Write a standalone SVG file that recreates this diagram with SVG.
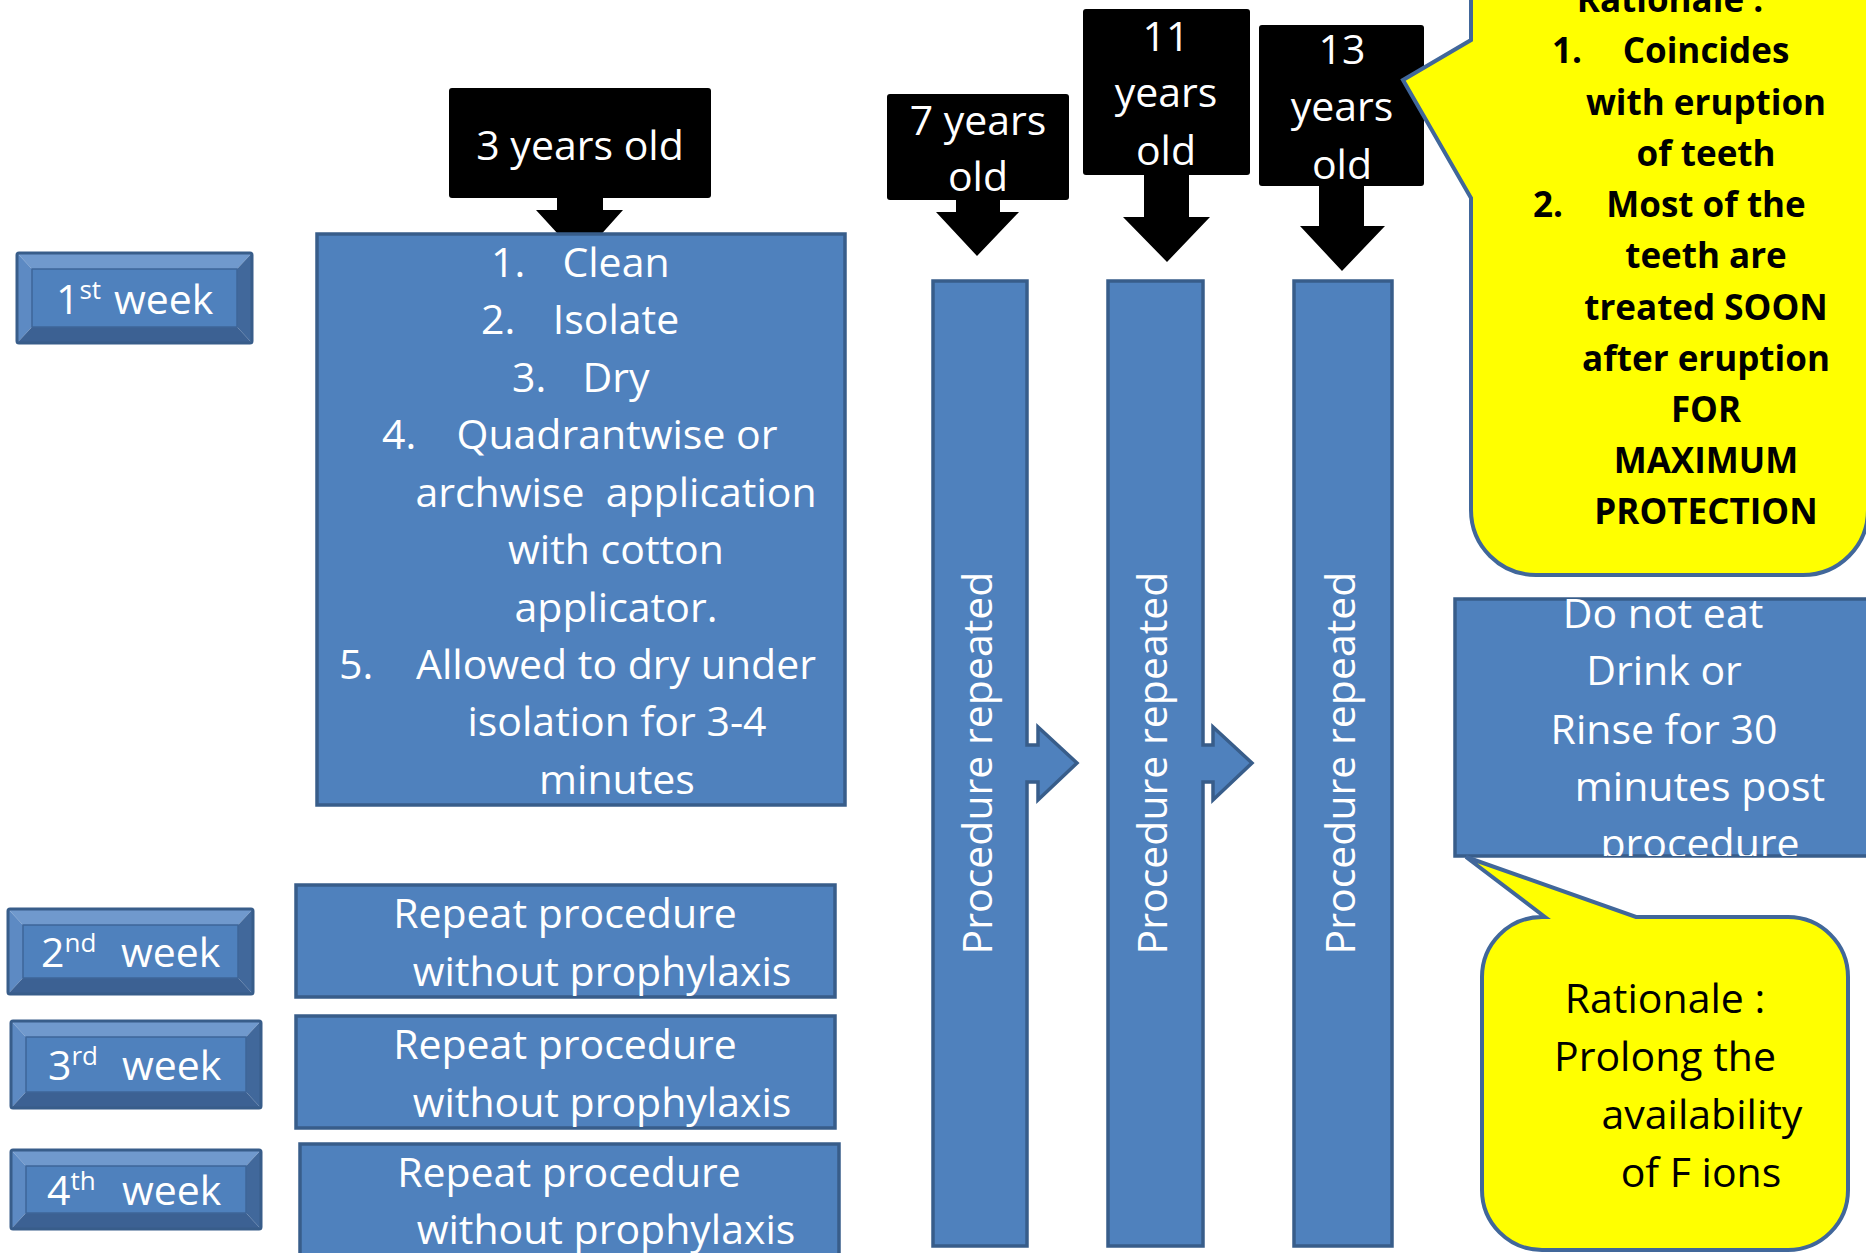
<svg xmlns="http://www.w3.org/2000/svg" width="1866" height="1253" viewBox="0 0 1866 1253">
<defs>
<style>
.t{font-family:"Open Sans","DejaVu Sans",sans-serif;font-size:41px;fill:#fff}
.c{text-anchor:middle}
.k{fill:#000}
.b{font-weight:bold;font-size:35px}
.blue{fill:#4f81bd;stroke:#385d8a;stroke-width:3.5}
.blk{fill:#000}
.yel{fill:#ffff00;stroke:#41679a;stroke-width:4;stroke-linejoin:miter}
.bt{fill:#7099cd}
.bl{fill:#5d8ac3}
.bb{fill:#3c6193}
.br{fill:#41689b}
.face{fill:#4f81bd;stroke:#3e6699;stroke-width:1.5}
.out{fill:none;stroke:#385d8a;stroke-width:3}
.sup{font-size:26px}
</style>
<clipPath id="clipDN"><rect x="1455" y="599" width="420" height="257"/></clipPath>
</defs>
<rect width="1866" height="1253" fill="#fff"/>

<!-- connectors: down arrows from age boxes -->
<g id="connectors">
<polygon class="blk" points="557,196 603,196 603,210 623,210 580,258 536,210 557,210"/>
<polygon class="blk" points="956,198 1000,198 1000,212 1019,212 977,256 936,212 956,212"/>
<polygon class="blk" points="1144,172 1189,172 1189,217 1210,217 1167,262 1123,217 1144,217"/>
<polygon class="blk" points="1319,184 1364,184 1364,226 1385,226 1342,271 1300,226 1319,226"/>
</g>

<!-- week boxes -->
<g id="week1">
<polygon class="bt" points="17,253 252,253 237,269 32,269"/>
<polygon class="bl" points="17,253 32,269 32,327 17,343"/>
<polygon class="bb" points="17,343 32,327 237,327 252,343"/>
<polygon class="br" points="252,253 252,343 237,327 237,269"/>
<rect class="face" x="32" y="269" width="205" height="58"/>
<rect class="out" x="17" y="253" width="235" height="90" rx="2"/>
<text class="t" x="56" y="314">1<tspan class="sup" dy="-15">st</tspan><tspan x="114" dy="15">week</tspan></text>
</g>
<g id="week2">
<polygon class="bt" points="8,909 253,909 238,925 23,925"/>
<polygon class="bl" points="8,909 23,925 23,978 8,994"/>
<polygon class="bb" points="8,994 23,978 238,978 253,994"/>
<polygon class="br" points="253,909 253,994 238,978 238,925"/>
<rect class="face" x="23" y="925" width="215" height="53"/>
<rect class="out" x="8" y="909" width="245" height="85" rx="2"/>
<text class="t" x="41" y="967">2<tspan class="sup" dy="-15">nd</tspan><tspan x="121" dy="15">week</tspan></text>
</g>
<g id="week3">
<polygon class="bt" points="11,1021 261,1021 246,1037 26,1037"/>
<polygon class="bl" points="11,1021 26,1037 26,1092 11,1108"/>
<polygon class="bb" points="11,1108 26,1092 246,1092 261,1108"/>
<polygon class="br" points="261,1021 261,1108 246,1092 246,1037"/>
<rect class="face" x="26" y="1037" width="220" height="55"/>
<rect class="out" x="11" y="1021" width="250" height="87" rx="2"/>
<text class="t" x="48" y="1080">3<tspan class="sup" dy="-15">rd</tspan><tspan x="122" dy="15">week</tspan></text>
</g>
<g id="week4">
<polygon class="bt" points="11,1150 261,1150 246,1166 26,1166"/>
<polygon class="bl" points="11,1150 26,1166 26,1213 11,1229"/>
<polygon class="bb" points="11,1229 26,1213 246,1213 261,1229"/>
<polygon class="br" points="261,1150 261,1229 246,1213 246,1166"/>
<rect class="face" x="26" y="1166" width="220" height="47"/>
<rect class="out" x="11" y="1150" width="250" height="79" rx="2"/>
<text class="t" x="47" y="1205">4<tspan class="sup" dy="-15">th</tspan><tspan x="122" dy="15">week</tspan></text>
</g>

<!-- age boxes -->
<g id="age3">
<rect class="blk" x="449" y="88" width="262" height="110" rx="3"/>
<text class="t c" x="580" y="160">3 years old</text>
</g>
<g id="age7">
<rect class="blk" x="887" y="94" width="182" height="106" rx="3"/>
<text class="t c" x="978" y="135">7 years</text>
<text class="t c" x="978" y="191">old</text>
</g>
<g id="age11">
<rect class="blk" x="1083" y="9" width="167" height="166" rx="3"/>
<text class="t c" x="1166" y="51">11</text>
<text class="t c" x="1166" y="107">years</text>
<text class="t c" x="1166" y="165">old</text>
</g>
<g id="age13">
<rect class="blk" x="1259" y="25" width="165" height="161" rx="3"/>
<text class="t c" x="1342" y="64">13</text>
<text class="t c" x="1342" y="121">years</text>
<text class="t c" x="1342" y="179">old</text>
</g>

<!-- main procedure box -->
<g id="procedure">
<rect class="blue" x="317" y="234" width="528" height="571"/>
<text class="t" x="491" y="277">1.</text><text class="t c" x="616" y="277">Clean</text>
<text class="t" x="481" y="334">2.</text><text class="t c" x="616" y="334">Isolate</text>
<text class="t" x="512" y="392">3.</text><text class="t c" x="616" y="392">Dry</text>
<text class="t" x="382" y="449">4.</text><text class="t c" x="617" y="449">Quadrantwise or</text>
<text class="t c" x="616" y="507" xml:space="preserve">archwise  application</text>
<text class="t c" x="616" y="564">with cotton</text>
<text class="t c" x="616" y="622">applicator.</text>
<text class="t" x="339" y="679">5.</text><text class="t c" x="616" y="679">Allowed to dry under</text>
<text class="t c" x="617" y="736">isolation for 3-4</text>
<text class="t c" x="617" y="794">minutes</text>
</g>

<!-- repeat boxes -->
<g id="repeat2">
<rect class="blue" x="296" y="885" width="539" height="112"/>
<text class="t c" x="565" y="928">Repeat procedure</text>
<text class="t c" x="602" y="986">without prophylaxis</text>
</g>
<g id="repeat3">
<rect class="blue" x="296" y="1016" width="539" height="112"/>
<text class="t c" x="565" y="1059">Repeat procedure</text>
<text class="t c" x="602" y="1117">without prophylaxis</text>
</g>
<g id="repeat4">
<rect class="blue" x="300" y="1144" width="539" height="130"/>
<text class="t c" x="569" y="1187">Repeat procedure</text>
<text class="t c" x="606" y="1244">without prophylaxis</text>
</g>

<!-- vertical bars -->
<g id="bar7">
<path class="blue" d="M933,281 H1027 V745 H1038 V727 L1077,763 L1038,800 V782 H1027 V1246 H933 Z"/>
<text class="t c" transform="translate(980,763) rotate(-90)" y="12">Procedure repeated</text>
</g>
<g id="bar11">
<path class="blue" d="M1108,281 H1203 V745 H1213 V727 L1252,763 L1213,800 V782 H1203 V1246 H1108 Z"/>
<text class="t c" transform="translate(1155,763) rotate(-90)" y="12">Procedure repeated</text>
</g>
<g id="bar13">
<rect class="blue" x="1294" y="281" width="98" height="965"/>
<text class="t c" transform="translate(1343,763) rotate(-90)" y="12">Procedure repeated</text>
</g>

<!-- yellow callout top -->
<g id="rationale1">
<path class="yel" d="M1471,-80 V40 L1403,80 L1471,198 V510 A65,65 0 0 0 1536,575 H1803 A65,65 0 0 0 1868,510 V-80 Z"/>
<text class="t k b c" x="1670" y="12">Rationale :</text>
<text class="t k b" x="1552" y="63">1.</text><text class="t k b c" x="1706" y="63">Coincides</text>
<text class="t k b c" x="1706" y="115">with eruption</text>
<text class="t k b c" x="1706" y="166">of teeth</text>
<text class="t k b" x="1533" y="217">2.</text><text class="t k b c" x="1706" y="217">Most of the</text>
<text class="t k b c" x="1706" y="268">teeth are</text>
<text class="t k b c" x="1706" y="320">treated SOON</text>
<text class="t k b c" x="1706" y="371">after eruption</text>
<text class="t k b c" x="1706" y="422">FOR</text>
<text class="t k b c" x="1706" y="473">MAXIMUM</text>
<text class="t k b c" x="1706" y="524">PROTECTION</text>
</g>

<!-- do not eat box -->
<g id="donoteat">
<rect class="blue" x="1455" y="599" width="420" height="257"/>
<g clip-path="url(#clipDN)">
<text class="t c" x="1663" y="628">Do not eat</text>
<text class="t c" x="1664" y="685">Drink or</text>
<text class="t c" x="1664" y="744">Rinse for 30</text>
<text class="t c" x="1700" y="801">minutes post</text>
<text class="t c" x="1700" y="858">procedure</text>
</g>
</g>

<!-- yellow callout bottom -->
<g id="rationale2">
<path class="yel" d="M1545,917 L1466,857 L1636,917 H1788 A60,60 0 0 1 1848,977 V1190 A60,60 0 0 1 1788,1250 H1542 A60,60 0 0 1 1482,1190 V977 A60,60 0 0 1 1542,917 Z"/>
<text class="t k c" x="1665" y="1013">Rationale :</text>
<text class="t k c" x="1665" y="1071">Prolong the</text>
<text class="t k c" x="1702" y="1129">availability</text>
<text class="t k c" x="1701" y="1187">of F ions</text>
</g>
</svg>
